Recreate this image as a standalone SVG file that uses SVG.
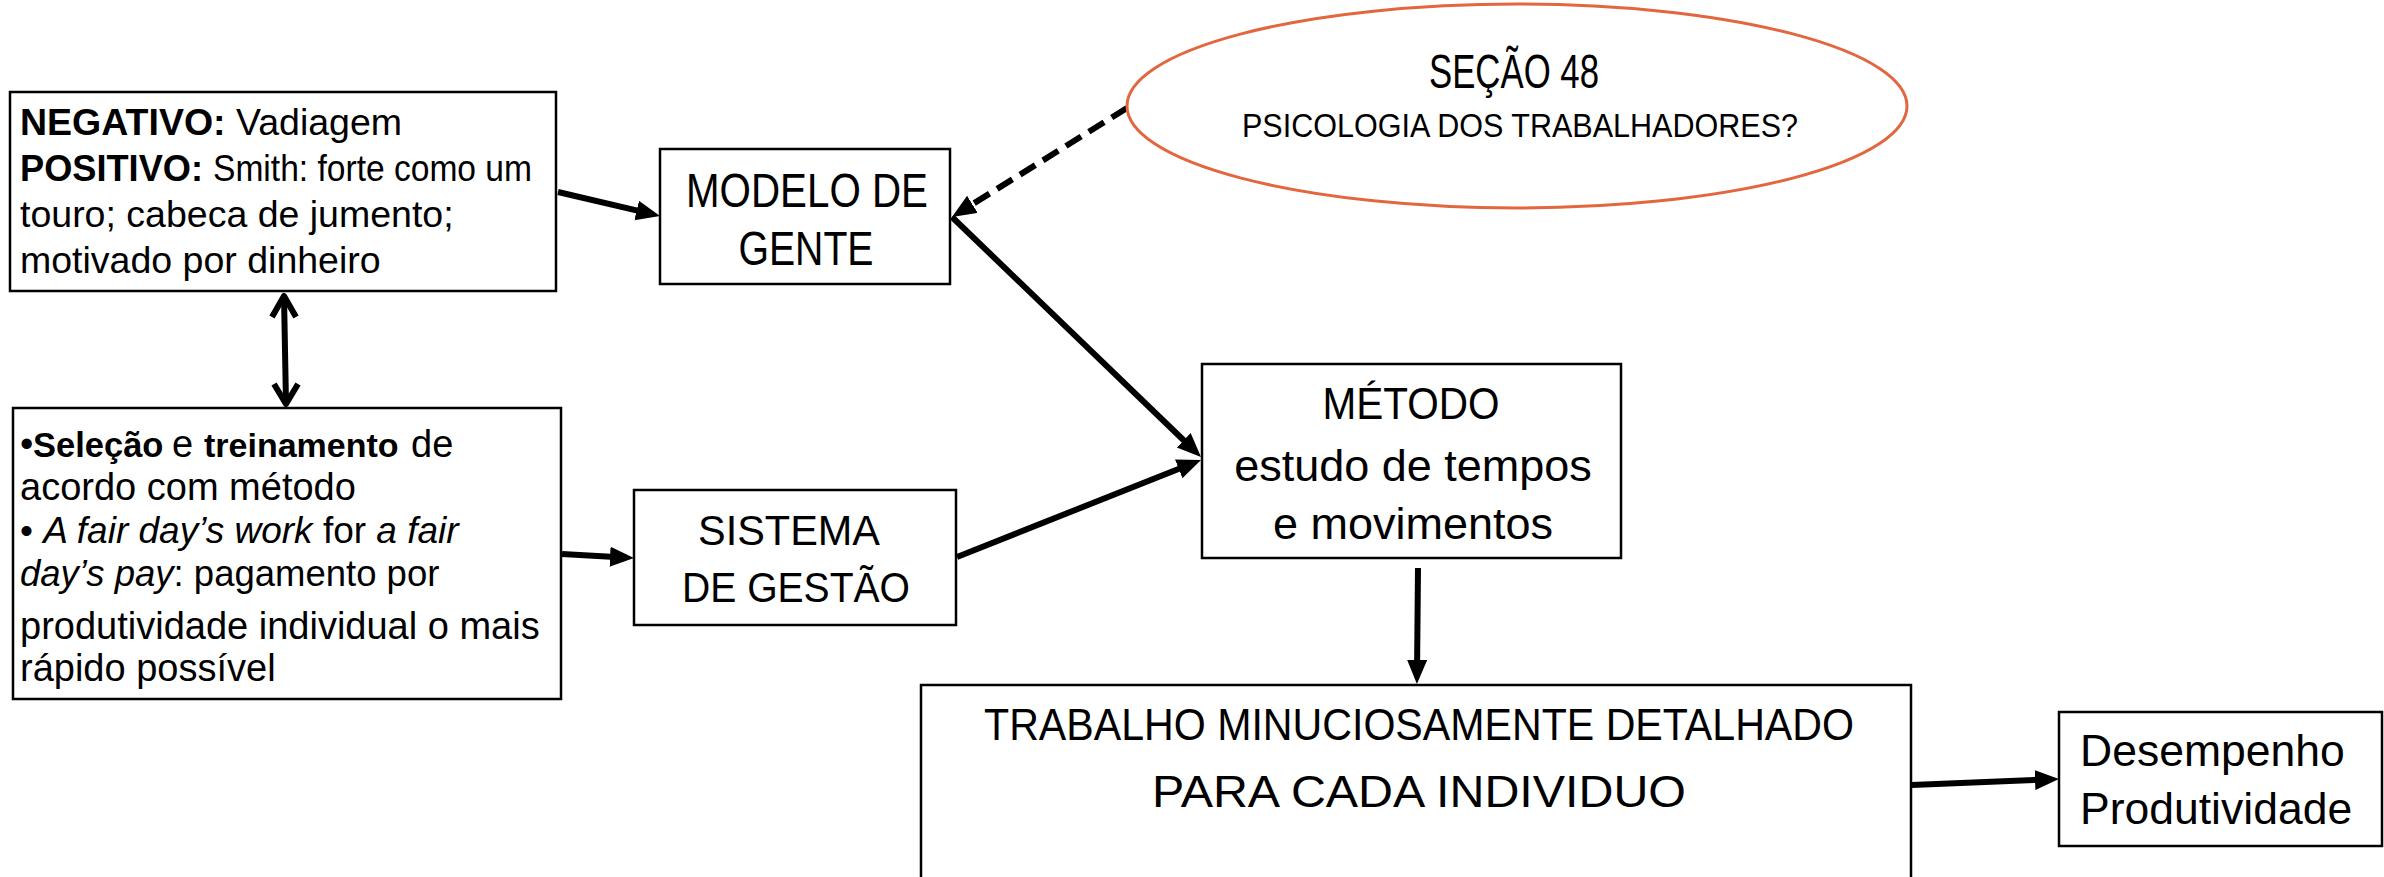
<svg xmlns="http://www.w3.org/2000/svg" width="2384" height="877" viewBox="0 0 2384 877">
<defs>
<style>
.box{fill:#fff;stroke:#000;stroke-width:2.5}
.t{font-family:"Liberation Sans",Arial,sans-serif;fill:#000}
.b{font-weight:bold}
.i{font-style:italic}
.c{text-anchor:middle}
.ln{stroke:#000;stroke-width:6;fill:none}
</style>
<marker id="ah" markerUnits="userSpaceOnUse" markerWidth="26" markerHeight="22" refX="14" refY="10" orient="auto" viewBox="0 0 26 22">
<path d="M0,0 L24,10 L0,20 z" fill="#000"/>
</marker>
</defs>
<rect width="2384" height="877" fill="#fff"/>

<g id="connectors">
<line class="ln" x1="558" y1="192" x2="650.3" y2="213.7" marker-end="url(#ah)"/>
<line class="ln" x1="1127" y1="108" x2="960.5" y2="211.7" stroke-dasharray="18,9" marker-end="url(#ah)"/>
<line class="ln" x1="952" y1="217" x2="1193.8" y2="450" marker-end="url(#ah)"/>
<line class="ln" x1="957" y1="557" x2="1191.7" y2="463.7" marker-end="url(#ah)"/>
<line class="ln" x1="562" y1="554" x2="624" y2="557.5" marker-end="url(#ah)"/>
<line class="ln" x1="1418" y1="568" x2="1417" y2="674" marker-end="url(#ah)"/>
<line class="ln" x1="1912" y1="785" x2="2049" y2="779.4" marker-end="url(#ah)"/>
<line class="ln" x1="284" y1="296" x2="286" y2="404"/>
<polyline class="ln" points="272,317 284,296 296,317" stroke-linejoin="round"/>
<polyline class="ln" points="274,384 286,404 298,384" stroke-linejoin="round"/>
</g>

<g id="n-negativo">
<rect class="box" x="10" y="92" width="546" height="199"/>
<text class="t" font-size="37.5">
<tspan x="20" y="135"><tspan class="b">NEGATIVO:</tspan> Vadiagem</tspan>
<tspan class="b" x="20" y="181" textLength="183" lengthAdjust="spacingAndGlyphs">POSITIVO:</tspan>
<tspan x="213" y="181" textLength="319" lengthAdjust="spacingAndGlyphs">Smith: forte como um</tspan>
<tspan x="20" y="227">touro; cabeca  de jumento;</tspan>
<tspan x="20" y="273">motivado por dinheiro</tspan>
</text>
</g>

<g id="n-selecao">
<rect class="box" x="13" y="408" width="548" height="291"/>
<text class="t" font-size="38">
<tspan x="20" y="457">•</tspan>
<tspan class="b" x="33" y="457" font-size="34.5">Seleção</tspan>
<tspan x="172" y="457">e</tspan>
<tspan class="b" x="204" y="457" font-size="34">treinamento</tspan>
<tspan x="411" y="457">de</tspan>
<tspan x="20" y="500">acordo com método</tspan>
<tspan x="20" y="543" font-size="37">• <tspan class="i">A fair day’s work</tspan> for <tspan class="i">a fair</tspan></tspan>
<tspan x="20" y="586" font-size="36.5"><tspan class="i">day’s pay</tspan>: pagamento por</tspan>
<tspan x="20" y="639">produtividade individual o mais</tspan>
<tspan x="20" y="681">rápido possível</tspan>
</text>
</g>

<g id="n-modelo">
<rect class="box" x="660" y="149" width="290" height="135"/>
<text class="t c" font-size="48"><tspan x="807" y="207" textLength="242" lengthAdjust="spacingAndGlyphs">MODELO DE</tspan><tspan x="806" y="265" textLength="135" lengthAdjust="spacingAndGlyphs">GENTE</tspan></text>
</g>

<g id="n-secao">
<ellipse cx="1517" cy="106" rx="390" ry="102" fill="#fff" stroke="#E2673F" stroke-width="3"/>
<text class="t c" font-size="48" x="1514" y="88" textLength="170" lengthAdjust="spacingAndGlyphs">SEÇÃO 48</text>
<text class="t c" font-size="33" x="1520" y="137" textLength="556" lengthAdjust="spacingAndGlyphs">PSICOLOGIA DOS TRABALHADORES?</text>
</g>

<g id="n-metodo">
<rect class="box" x="1202" y="364" width="419" height="194"/>
<text class="t c" font-size="45"><tspan x="1411" y="419" textLength="177" lengthAdjust="spacingAndGlyphs">MÉTODO</tspan><tspan x="1413" y="481">estudo de tempos</tspan><tspan x="1413" y="539">e movimentos</tspan></text>
</g>

<g id="n-sistema">
<rect class="box" x="634" y="490" width="322" height="135"/>
<text class="t c" font-size="42"><tspan x="789" y="545" textLength="182" lengthAdjust="spacingAndGlyphs">SISTEMA</tspan><tspan x="796" y="602" textLength="228" lengthAdjust="spacingAndGlyphs">DE GESTÃO</tspan></text>
</g>

<g id="n-trabalho">
<rect class="box" x="921" y="685" width="990" height="210"/>
<text class="t c" font-size="44"><tspan x="1419" y="740" textLength="870" lengthAdjust="spacingAndGlyphs">TRABALHO MINUCIOSAMENTE DETALHADO</tspan><tspan x="1419" y="807" textLength="534" lengthAdjust="spacingAndGlyphs">PARA CADA INDIVIDUO</tspan></text>
</g>

<g id="n-desempenho">
<rect class="box" x="2059" y="712" width="323" height="134"/>
<text class="t" font-size="44.5"><tspan x="2080" y="766">Desempenho</tspan><tspan x="2080" y="824">Produtividade</tspan></text>
</g>
</svg>
